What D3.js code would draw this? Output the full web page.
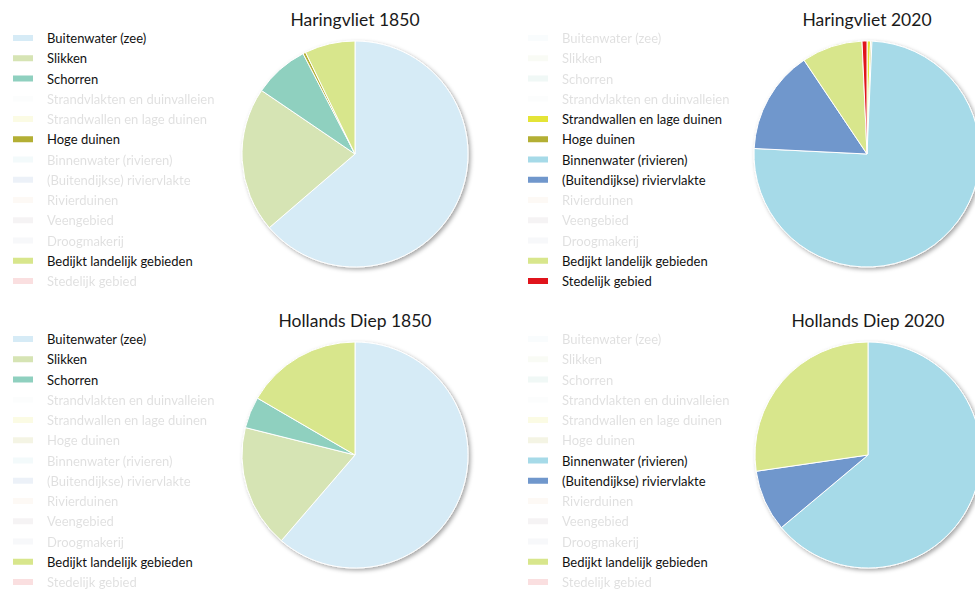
<!DOCTYPE html>
<html>
<head>
<meta charset="utf-8">
<script src="https://cdn.jsdelivr.net/npm/d3@7"></script>
<style>
  html, body { margin: 0; padding: 0; background: #fff; }
  svg { display: block; font-family: Lato, "Open Sans", sans-serif; }
</style>
</head>
<body>
<svg id="chart" width="975" height="590"></svg>
<script>
// Land-cover classes (legend order = slice order, clockwise from 12 o'clock)
const categories = [
  "Buitenwater (zee)",
  "Slikken",
  "Schorren",
  "Strandvlakten en duinvalleien",
  "Strandwallen en lage duinen",
  "Hoge duinen",
  "Binnenwater (rivieren)",
  "(Buitendijkse) riviervlakte",
  "Rivierduinen",
  "Veengebied",
  "Droogmakerij",
  "Bedijkt landelijk gebieden",
  "Stedelijk gebied"
];

const colors = [
  "#d6ebf6", "#d6e4b4", "#8fd0bf", "#eef3f5", "#e4e437", "#b3af34",
  "#a6dae8", "#7097cc", "#f3d3b4", "#b6a6ae", "#c6d0de", "#d8e68c", "#e0141c"
];

// Shares per area (percent), one value per class
const titles = ["Haringvliet 1850", "Haringvliet 2020", "Hollands Diep 1850", "Hollands Diep 2020"];
const haringvliet1850  = [63.7, 20.8, 7.9, 0, 0, 0.4, 0, 0, 0, 0, 0, 7.2, 0];
const haringvliet2020  = [0, 0, 0, 0, 0.5, 0.2, 75.0, 14.8, 0, 0, 0, 8.7, 0.7];
const hollandsDiep1850 = [61.3, 17.6, 4.5, 0, 0, 0, 0, 0, 0, 0, 0, 16.6, 0];
const hollandsDiep2020 = [0, 0, 0, 0, 0, 0, 63.9, 8.8, 0, 0, 0, 27.3, 0];

const svg = d3.select("#chart");

const defs = svg.append("defs");
defs.append("filter")
    .attr("id", "pieShadow")
    .attr("x", "-10%").attr("y", "-10%").attr("width", "120%").attr("height", "120%")
  .append("feDropShadow")
    .attr("dx", 2).attr("dy", 2).attr("stdDeviation", 2)
    .attr("flood-color", "#000").attr("flood-opacity", 0.35);

const color = d3.scaleOrdinal().domain(categories).range(colors);

const panels = [
  { title: titles[0], values: haringvliet1850,  legendX: 13,  top: 0,   cx: 355, cy: 154 },
  { title: titles[1], values: haringvliet2020,  legendX: 528, top: 0,   cx: 867, cy: 154 },
  { title: titles[2], values: hollandsDiep1850, legendX: 13,  top: 301, cx: 355, cy: 455 },
  { title: titles[3], values: hollandsDiep2020, legendX: 528, top: 301, cx: 868, cy: 455 }
];

const radius = 113;
const pie = d3.pie().sort(null).value(d => d.value).startAngle(0).endAngle(2 * Math.PI);
const arc = d3.arc().innerRadius(0).outerRadius(radius);

// Legend rows: vertical position of each class row within a panel
const rowStep = d3.scaleLinear().domain([0, categories.length - 1]).range([38, 281]);

panels.forEach(p => {
  const g = svg.append("g");

  // Title
  g.append("text")
    .attr("x", p.cx)
    .attr("y", p.top + 19)
    .attr("text-anchor", "middle")
    .attr("dominant-baseline", "central")
    .attr("font-size", 17.5)
    .attr("fill", "#1a1a1a")
    .text(p.title);

  // Pie
  const rows = categories.map((c, i) => ({ name: c, value: p.values[i] }));
  const pg = g.append("g")
    .attr("transform", `translate(${p.cx},${p.cy})`)
    .attr("filter", "url(#pieShadow)");
  pg.selectAll("path")
    .data(pie(rows).filter(d => d.data.value > 0))
    .join("path")
      .attr("d", arc)
      .attr("fill", d => color(d.data.name))
      .attr("stroke", "#fff")
      .attr("stroke-width", 1);

  // Legend (classes absent from this area are faded)
  const lg = g.append("g");
  const items = lg.selectAll("g")
    .data(rows)
    .join("g")
      .attr("transform", (d, i) => `translate(${p.legendX},${p.top + rowStep(i)})`)
      .attr("opacity", d => d.value > 0 ? 1 : 0.13);
  items.append("rect")
    .attr("x", 0).attr("y", -3)
    .attr("width", 20).attr("height", 6)
    .attr("fill", d => color(d.name));
  items.append("text")
    .attr("x", 34)
    .attr("y", 0)
    .attr("dominant-baseline", "central")
    .attr("font-size", 13)
    .attr("fill", "#111")
    .text(d => d.name);
});
</script>
</body>
</html>
